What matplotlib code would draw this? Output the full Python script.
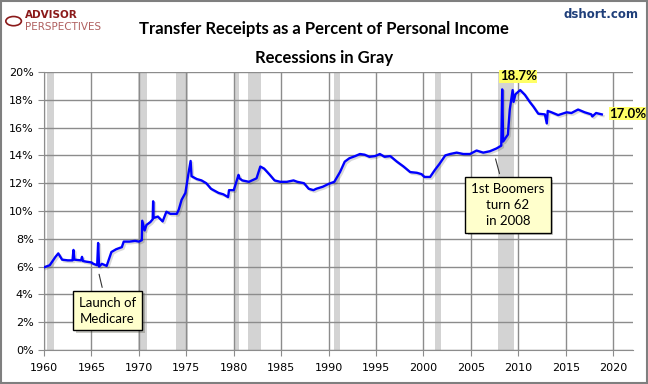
import matplotlib
matplotlib.use("Agg")
import matplotlib.pyplot as plt
import matplotlib.patheffects as pe
from matplotlib.patches import Rectangle, Circle

# values (decimal year, percent)
years = [1960.0, 1960.6, 1961.2, 1961.5, 1961.9, 1962.5, 1963.0, 1963.1, 1963.2,
         1963.9, 1964.0, 1964.1, 1964.5, 1965.0, 1965.2, 1965.6, 1965.7, 1965.8,
         1966.1, 1966.6, 1967.1, 1967.6, 1968.2, 1968.4, 1969.0, 1969.6, 1970.0,
         1970.3, 1970.35, 1970.6, 1970.8, 1971.2, 1971.45, 1971.5, 1971.55, 1972.0,
         1972.5, 1972.9, 1973.3, 1974.0, 1974.2, 1974.5, 1974.9, 1975.2, 1975.45,
         1975.55, 1976.1, 1976.6, 1977.1, 1977.6, 1978.4, 1978.9, 1979.4, 1979.5,
         1980.0, 1980.5, 1980.6, 1980.9, 1981.6, 1982.4, 1982.8, 1983.2, 1983.8,
         1984.3, 1984.9, 1985.6, 1986.3, 1986.7, 1987.4, 1987.9, 1988.4, 1988.7,
         1989.4, 1990.0, 1990.6, 1991.2, 1991.7, 1992.2, 1992.8, 1993.3, 1993.8,
         1994.3, 1994.9, 1995.4, 1995.9, 1996.5, 1997.2, 1997.9, 1998.6, 1999.3,
         1999.8, 2000.1, 2000.7, 2001.2, 2001.7, 2002.3, 2002.8, 2003.5, 2004.2,
         2004.9, 2005.6, 2006.3, 2007.0, 2007.7, 2008.2, 2008.3, 2008.4, 2008.6,
         2008.9, 2009.1, 2009.4, 2009.5, 2009.7, 2010.2, 2010.7, 2011.2, 2011.6,
         2012.1, 2012.8, 2013.0, 2013.1, 2013.5, 2014.2, 2015.1, 2015.6, 2016.3,
         2017.0, 2017.7, 2017.8, 2018.2, 2018.8]
values = [5.95, 6.1, 6.7, 6.95, 6.5, 6.45, 6.45, 7.2, 6.5,
          6.45, 6.7, 6.4, 6.35, 6.3, 6.2, 6.1, 7.7, 6.0,
          6.2, 6.05, 7.05, 7.25, 7.4, 7.8, 7.8, 7.85, 7.8,
          7.9, 9.3, 8.6, 9.0, 9.2, 9.4, 10.7, 9.5, 9.6,
          9.25, 9.95, 9.8, 9.8, 10.1, 10.8, 11.3, 12.6, 13.6,
          12.5, 12.3, 12.2, 12.0, 11.6, 11.3, 11.2, 11.0, 11.5,
          11.5, 12.6, 12.35, 12.2, 12.1, 12.35, 13.2, 13.05, 12.6,
          12.2, 12.1, 12.1, 12.2, 12.1, 12.0, 11.6, 11.5, 11.6,
          11.75, 11.95, 12.1, 12.8, 13.55, 13.8, 13.95, 14.1, 14.05,
          13.9, 13.95, 14.1, 13.9, 13.95, 13.55, 13.2, 12.8, 12.75,
          12.65, 12.45, 12.45, 12.95, 13.4, 14.0, 14.1, 14.2, 14.1,
          14.1, 14.35, 14.2, 14.3, 14.5, 14.7, 18.75, 15.0, 15.2,
          15.5, 17.3, 18.7, 17.85, 18.4, 18.7, 18.35, 17.85, 17.5,
          17.0, 16.95, 16.3, 17.2, 17.1, 16.9, 17.1, 17.05, 17.3,
          17.1, 16.95, 16.8, 17.05, 16.95]

rec_start = [1960.3, 1969.9, 1973.9, 1980.0, 1981.5, 1990.6, 2001.2, 2007.9]
rec_end = [1961.1, 1970.9, 1975.2, 1980.5, 1982.9, 1991.2, 2001.9, 2009.5]

fig = plt.figure(figsize=(6.48, 3.84), dpi=100)
ax = fig.add_axes([0.068, 0.0885, 0.909, 0.724])

for s, e in zip(rec_start, rec_end):
    ax.axvspan(s, e, color='#d3d3d3', lw=0, zorder=0)

ax.plot(years, values, color='#0000ff', lw=1.7, zorder=3,
        path_effects=[pe.SimpleLineShadow(offset=(1.2, -1.2), alpha=0.15), pe.Normal()])

ax.set_xlim(1960, 2022.1)
ax.set_ylim(0, 20)
ax.set_xticks(range(1960, 2021, 5))
ax.set_yticks(range(0, 21, 2))
ax.set_yticklabels([f'{v}%' for v in range(0, 21, 2)])
ax.grid(True, color='#8c8c8c', lw=1)
ax.set_axisbelow(True)
ax.tick_params(axis='both', labelsize=8, color='#8c8c8c', length=4)
ax.tick_params(axis='x', pad=5)
for side in ['top', 'right']:
    ax.spines[side].set_visible(False)
for side in ['left', 'bottom']:
    ax.spines[side].set_color('#8c8c8c')

# highlight labels
hl = dict(boxstyle='square,pad=0.05', fc='#ffff66', ec='none')
ax.text(2010.0, 19.25, '18.7%', fontsize=9.5, fontweight='bold', family='Lato',
        ha='center', va='bottom', bbox=hl, clip_on=False)
ax.text(2019.6, 17.0, '17.0%', fontsize=9.5, fontweight='bold', family='Lato',
        ha='left', va='center', bbox=hl, clip_on=False)

# callouts
box = dict(boxstyle='square,pad=0.45', fc='#ffffcc', ec='black', lw=1,
           path_effects=[pe.SimplePatchShadow(offset=(2, -2), alpha=0.3), pe.Normal()])
ax.annotate('Launch of\nMedicare', xy=(1965.8, 5.45), xytext=(1966.7, 2.84),
            fontsize=9.5, family='Lato', ha='center', va='center', linespacing=1.4,
            bbox=box, arrowprops=dict(arrowstyle='-', color='#333333', lw=0.8, shrinkB=0))
ax.annotate('1st Boomers\nturn 62\nin 2008', xy=(2007.6, 13.75), xytext=(2008.9, 10.45),
            fontsize=9.5, family='Lato', ha='center', va='center', linespacing=1.4,
            bbox=box, arrowprops=dict(arrowstyle='-', color='#333333', lw=0.8, shrinkB=0))

fig.text(0.5, 0.925, 'Transfer Receipts as a Percent of Personal Income',
         ha='center', va='center', fontsize=12, fontweight='bold', family='Lato')
fig.text(0.5, 0.85, 'Recessions in Gray', ha='center', va='center',
         fontsize=12, fontweight='bold', family='Lato')
fig.text(0.985, 0.962, 'dshort.com', ha='right', va='center', fontsize=8.5,
         fontweight='bold', color='#1f3f7a')

# logo
fig.patches.append(Circle((0.021, 0.945), 0.012, transform=fig.transFigure,
                          fc='none', ec='#8b1a1a', lw=1.2))
fig.text(0.038, 0.962, 'ADVISOR', ha='left', va='center', fontsize=7.5,
         fontweight='bold', color='#8b1a1a')
fig.text(0.038, 0.93, 'PERSPECTIVES', ha='left', va='center', fontsize=7.5,
         color='#b06060')

fig.patches.append(Rectangle((0.0015, 0.0025), 0.997, 0.995, transform=fig.transFigure,
                             fill=False, ec='#7f7f7f', lw=1.5))

fig.savefig('out.png', dpi=100)
